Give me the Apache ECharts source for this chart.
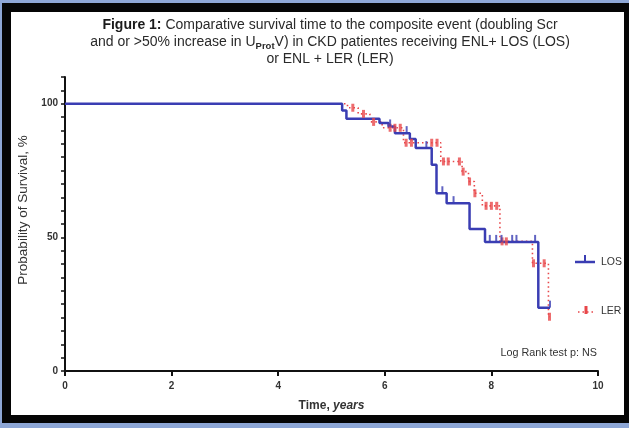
<!DOCTYPE html>
<html>
<head>
<meta charset="utf-8">
<script src="https://cdn.jsdelivr.net/npm/echarts@6/dist/echarts.min.js"></script>
<style>
  html, body { margin:0; padding:0; width:629px; height:428px; overflow:hidden; background:#8ea7d6; }
  #blk { position:absolute; left:2px; top:3px; width:627px; height:420px; background:#050505; }
  #wht { position:absolute; left:11px; top:12px; width:613px; height:403px; background:#ffffff; }
  #chart { position:absolute; left:0; top:0; width:629px; height:428px; }
</style>
</head>
<body>
<div id="blk"></div>
<div id="wht"></div>
<div id="chart"></div>
<script>
// Kaplan-Meier step points (time in years, survival %)
const losTimes    = [0, 5.20, 5.28, 5.90, 6.07, 6.19, 6.47, 6.58, 6.88, 6.97, 7.16, 7.59, 7.88, 8.88, 9.10];
const losSurvival = [100, 97.5, 94.4, 92.8, 91.5, 89.0, 86.8, 83.4, 77.2, 66.5, 62.8, 53.1, 48.3, 23.7, 23.7];
const losCensorTimes    = [6.10, 6.41, 6.78, 7.08, 7.29, 7.97, 8.09, 8.19, 8.39, 8.47, 8.82, 9.10];
const losCensorSurvival = [91.5, 89.0, 83.4, 66.5, 62.8, 48.3, 48.3, 48.3, 48.3, 48.3, 48.3, 23.7];

const lerTimes    = [0, 5.30, 5.50, 5.72, 5.95, 6.35, 7.05, 7.45, 7.57, 7.68, 7.83, 8.16, 8.77, 9.07, 9.10];
const lerSurvival = [100, 98.5, 96.2, 93.2, 91.0, 85.4, 78.4, 74.6, 70.9, 66.5, 61.8, 48.5, 40.3, 20.3, 20.3];
const lerCensorTimes    = [5.40, 5.60, 5.79, 6.10, 6.19, 6.29, 6.40, 6.50, 6.88, 6.98, 7.10, 7.19, 7.40, 7.47, 7.59, 7.69, 7.90, 8.00, 8.10, 8.20, 8.28, 8.79, 8.99, 9.09];
const lerCensorSurvival = [98.5, 96.2, 93.2, 91.0, 91.0, 91.0, 85.4, 85.4, 85.4, 85.4, 78.4, 78.4, 78.4, 74.6, 70.9, 66.5, 61.8, 61.8, 61.8, 48.5, 48.5, 40.3, 40.3, 20.3];

const xTicks = [0, 2, 4, 6, 8, 10];
const yLabels = [0, 50, 100];
const seriesNames = ['LOS', 'LER'];

const BLUE = '#3a3db3';
const RED = '#e8474a';
const FONT = '"Liberation Sans", Arial, sans-serif';

const zip = (a, b) => a.map((v, i) => [v, b[i]]);

const chart = echarts.init(document.getElementById('chart'), null, { renderer: 'canvas' });
chart.setOption({
  backgroundColor: 'transparent',
  animation: false,
  textStyle: { fontFamily: FONT },
  grid: { left: 65, right: 31, top: 77, bottom: 57, containLabel: false },
  xAxis: {
    type: 'value', min: 0, max: 10, interval: 2,
    name: 'Time, {i|years}', nameLocation: 'middle', nameGap: 29,
    nameTextStyle: { fontFamily: FONT, fontSize: 12, fontWeight: 'bold', color: '#333',
      rich: { i: { fontFamily: FONT, fontSize: 12, fontWeight: 'bold', fontStyle: 'italic', color: '#333' } } },
    axisLine: { onZero: false, lineStyle: { color: '#111', width: 2 } },
    axisTick: { show: true, inside: false, length: 5, lineStyle: { color: '#111', width: 2 } },
    axisLabel: { margin: 10, fontSize: 10, fontWeight: 'bold', color: '#333',
      formatter: v => xTicks.includes(v) ? String(v) : '' },
    splitLine: { show: false }
  },
  yAxis: {
    type: 'value', min: 0, max: 110, interval: 5,
    name: 'Probability of Survival, %', nameLocation: 'middle', nameGap: 33,
    nameTextStyle: { fontFamily: FONT, fontSize: 13.5, color: '#333', padding: [0, 0, 0, 28] },
    axisLine: { onZero: false, lineStyle: { color: '#111', width: 2 } },
    axisTick: { show: true, inside: false, length: 4, lineStyle: { color: '#111', width: 1.5 } },
    axisLabel: { margin: 7, fontSize: 10, fontWeight: 'bold', color: '#333',
      formatter: v => yLabels.includes(v) ? String(v) : '' },
    splitLine: { show: false }
  },
  series: [
    {
      name: seriesNames[1], type: 'line', step: 'end', symbol: 'none', z: 2,
      data: zip(lerTimes, lerSurvival),
      lineStyle: { color: RED, width: 1.6, type: [1.5, 3] }
    },
    {
      name: seriesNames[0], type: 'line', step: 'end', symbol: 'none', z: 3,
      data: zip(losTimes, losSurvival),
      lineStyle: { color: BLUE, width: 2.5 }
    },
    {
      name: seriesNames[1] + ' censored', type: 'scatter', z: 4,
      data: zip(lerCensorTimes, lerCensorSurvival),
      symbol: 'rect', symbolSize: [3, 8],
      itemStyle: { color: RED }
    },
    {
      name: seriesNames[0] + ' censored', type: 'scatter', z: 5,
      data: zip(losCensorTimes, losCensorSurvival),
      symbol: 'rect', symbolSize: [2, 7], symbolOffset: [0, -3.5],
      itemStyle: { color: BLUE }
    }
  ],
  graphic: [
    { type: 'text', x: 330, y: 17, style: {
        text: '{b|Figure 1:} Comparative survival time to the composite event (doubling Scr\nand or >50% increase in U{sub|Prot}V) in CKD patientes receiving ENL+ LOS (LOS)\nor ENL + LER (LER)',
        align: 'center', verticalAlign: 'top',
        fontFamily: FONT, fontSize: 14, fill: '#2a2a2a', lineHeight: 17,
        rich: {
          b: { fontFamily: FONT, fontSize: 14, fontWeight: 'bold', fill: '#1a1a1a', lineHeight: 17 },
          sub: { fontFamily: FONT, fontSize: 9.5, fontWeight: 'bold', fill: '#2a2a2a', padding: [7, 0, 0, 0], lineHeight: 17 }
        }
      } },
    { type: 'line', shape: { x1: 575, y1: 262, x2: 595, y2: 262 }, style: { stroke: BLUE, lineWidth: 2.5 } },
    { type: 'line', shape: { x1: 585, y1: 262, x2: 585, y2: 255 }, style: { stroke: BLUE, lineWidth: 2 } },
    { type: 'text', x: 601, y: 262, style: { text: seriesNames[0], fontFamily: FONT, fontSize: 10.5, fill: '#333', verticalAlign: 'middle' } },
    { type: 'line', shape: { x1: 578, y1: 312, x2: 594, y2: 312 }, style: { stroke: RED, lineWidth: 1.6, lineDash: [1.5, 3] } },
    { type: 'rect', shape: { x: 584.5, y: 306, width: 3, height: 8 }, style: { fill: RED } },
    { type: 'text', x: 601, y: 311, style: { text: seriesNames[1], fontFamily: FONT, fontSize: 10.5, fill: '#333', verticalAlign: 'middle' } },
    { type: 'text', x: 597, y: 353, style: { text: 'Log Rank test p: NS', fontFamily: FONT, fontSize: 10.8, fill: '#333', align: 'right', verticalAlign: 'middle' } }
  ]
});
</script>
</body>
</html>
